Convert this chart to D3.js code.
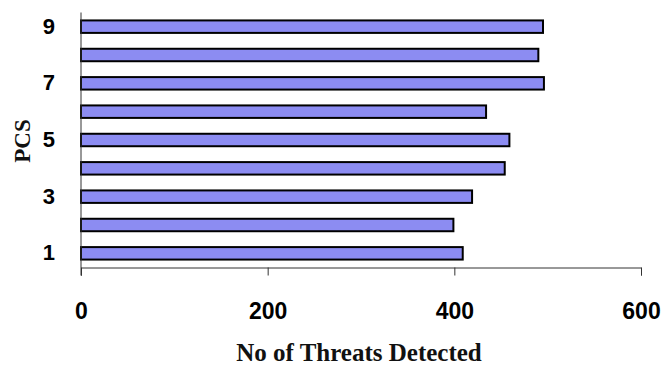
<!DOCTYPE html>
<html><head><meta charset="utf-8">
<script src="https://cdn.jsdelivr.net/npm/d3@7"></script>
<style>html,body{margin:0;padding:0;background:#fff;}</style>
</head><body>
<svg id="c" width="662" height="366"></svg>
<script>
const categories = [1, 2, 3, 4, 5, 6, 7, 8, 9];
const threats = [409, 399, 419, 454, 459, 434, 496, 490, 495];
const yTickLabels = [1, 3, 5, 7, 9];
const xTicks = [0, 200, 400, 600];

const svg = d3.select("#c");
const pLeft = 81, pRight = 641, pTop = 12.5, pBottom = 267.5;
const x = d3.scaleLinear().domain([0, 600]).range([pLeft, pRight]);
const y = d3.scaleBand().domain(categories).range([pBottom, pTop]).paddingInner(0.56).paddingOuter(0.28);

svg.append("g").selectAll("rect").data(categories).join("rect")
  .attr("x", x(0))
  .attr("y", d => y(d))
  .attr("width", (d, i) => x(threats[i]) - x(0))
  .attr("height", y.bandwidth())
  .attr("fill", "#8c8cf2")
  .attr("stroke", "#000")
  .attr("stroke-width", 2);

// x axis
const xa = svg.append("g").attr("transform", `translate(0,${pBottom})`)
  .call(d3.axisBottom(x).tickValues(xTicks).tickSize(8).tickPadding(43).tickFormat(d3.format("d")));
xa.select(".domain").attr("stroke", "#333");
xa.selectAll(".tick line").attr("stroke", "#333");
xa.selectAll("text").attr("font-family", "Liberation Sans, Arial, sans-serif")
  .attr("font-weight", "bold").attr("font-size", 23).attr("fill", "#000").attr("dy", 0);

// y axis
const ya = svg.append("g").attr("transform", `translate(${pLeft},0)`)
  .call(d3.axisLeft(y).tickValues(yTickLabels).tickSize(0).tickPadding(26));
ya.select(".domain").attr("stroke", "#333").attr("d", `M0,${pTop}V${pBottom + 8}`);
ya.selectAll("text").attr("font-family", "Liberation Sans, Arial, sans-serif")
  .attr("font-weight", "bold").attr("font-size", 22).attr("fill", "#000");

svg.append("text").attr("x", (pLeft + pRight) / 2 - 2).attr("y", 361)
  .attr("text-anchor", "middle")
  .attr("font-family", "Liberation Serif, Times New Roman, serif")
  .attr("font-weight", "bold").attr("font-size", 25).attr("fill", "#111")
  .text("No of Threats Detected");

svg.append("text").attr("transform", "translate(30,141) rotate(-90)")
  .attr("text-anchor", "middle")
  .attr("font-family", "Liberation Serif, Times New Roman, serif")
  .attr("font-weight", "bold").attr("font-size", 23).attr("fill", "#111")
  .text("PCS");
</script>
</body></html>
